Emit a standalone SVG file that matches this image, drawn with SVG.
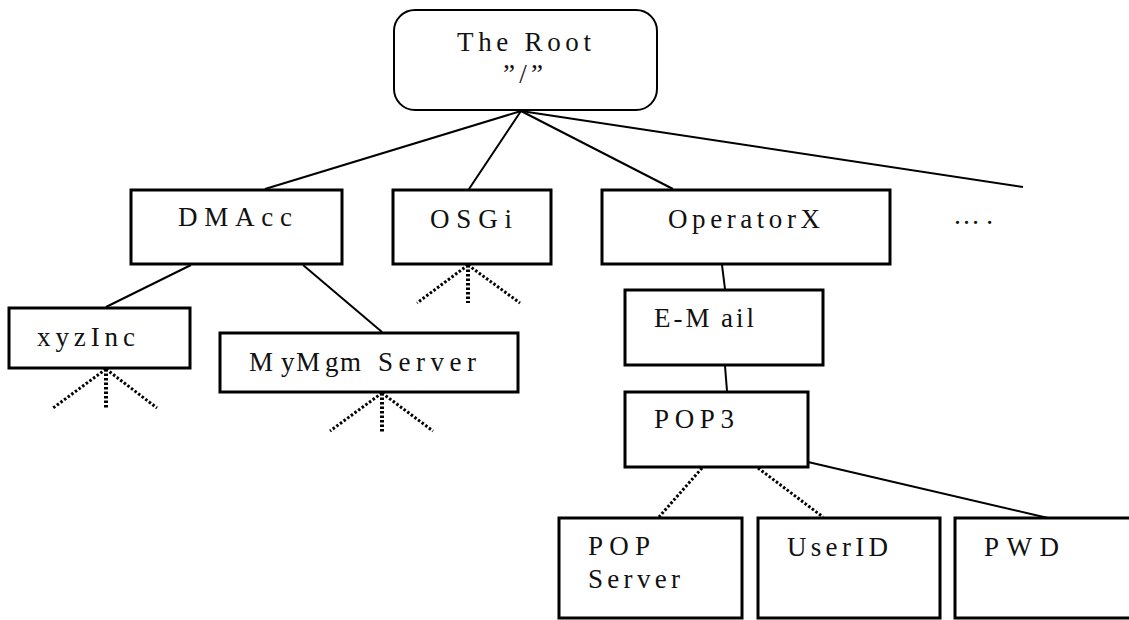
<svg xmlns="http://www.w3.org/2000/svg" width="1129" height="620" viewBox="0 0 1129 620">
<style>
.box{fill:#fff;stroke:#000;stroke-width:3}
.root{fill:#fff;stroke:#000;stroke-width:2}
.t{font-family:"Liberation Serif","Times New Roman",serif;font-size:27px;fill:#111}
.ln{stroke:#000;stroke-width:2;fill:none}
.dt{stroke:#000;stroke-width:3;stroke-dasharray:2.5 2;fill:none}
.dv{stroke:#000;stroke-width:4;stroke-dasharray:2.5 2;fill:none}
</style>
<rect width="1129" height="620" fill="#fff"/>
<g id="connectors">
<line class="ln" x1="521" y1="111" x2="265" y2="189"/>
<line class="ln" x1="521" y1="111" x2="469" y2="189"/>
<line class="ln" x1="521" y1="111" x2="673" y2="189"/>
<line class="ln" x1="521" y1="111" x2="1023" y2="187"/>
<line class="ln" x1="191" y1="265" x2="106" y2="307"/>
<line class="ln" x1="303" y1="265" x2="382" y2="332"/>
<line class="ln" x1="722" y1="265" x2="725" y2="289"/>
<line class="ln" x1="725" y1="366" x2="727" y2="391"/>
<line class="ln" x1="808" y1="462" x2="1048" y2="518"/>
<line class="dt" x1="702" y1="468" x2="659" y2="517"/>
<line class="dt" x1="758" y1="468" x2="823" y2="517"/>
<g id="fan-xyzInc">
<line class="dt" x1="106" y1="369" x2="53" y2="408"/>
<line class="dv" x1="106" y1="369" x2="106" y2="408"/>
<line class="dt" x1="106" y1="369" x2="157" y2="408"/>
</g>
<g id="fan-MyMgmServer">
<line class="dt" x1="382" y1="393" x2="330" y2="431"/>
<line class="dv" x1="382" y1="393" x2="382" y2="432"/>
<line class="dt" x1="382" y1="393" x2="433" y2="431"/>
</g>
<g id="fan-OSGi">
<line class="dt" x1="468" y1="265" x2="417" y2="303"/>
<line class="dv" x1="468" y1="265" x2="468" y2="303"/>
<line class="dt" x1="468" y1="265" x2="520" y2="303"/>
</g>
</g>
<g id="root">
<rect class="root" x="394" y="10" width="263" height="100" rx="21" ry="21"/>
<text class="t" x="457" y="51" font-size="28" textLength="134" lengthAdjust="spacing">The Root</text>
<text class="t" x="503" y="83" font-size="28" textLength="40" lengthAdjust="spacing">”/”</text>
</g>
<g id="dmacc">
<rect class="box" x="131" y="190" width="211" height="74"/>
<text class="t" x="178" y="226" font-size="28" textLength="114" lengthAdjust="spacing">DMAcc</text>
</g>
<g id="osgi">
<rect class="box" x="393" y="190" width="158" height="74"/>
<text class="t" x="430" y="228" font-size="28" textLength="82" lengthAdjust="spacing">OSGi</text>
</g>
<g id="operatorx">
<rect class="box" x="602" y="190" width="288" height="74"/>
<text class="t" x="668" y="228" font-size="28" textLength="152" lengthAdjust="spacing">OperatorX</text>
</g>
<g id="more">
<text class="t" x="953" y="224" textLength="40" lengthAdjust="spacing">….</text>
</g>
<g id="xyzinc">
<rect class="box" x="9" y="308" width="181" height="60"/>
<text class="t" x="37" y="346" font-size="25" textLength="98" lengthAdjust="spacing">xyzInc</text>
</g>
<g id="mymgmserver">
<rect class="box" x="220" y="333" width="298" height="59"/>
<text class="t" y="371" font-size="26" letter-spacing="1.5"><tspan x="249">M</tspan><tspan x="281">yM</tspan><tspan x="325">gm</tspan><tspan x="378" letter-spacing="5.5">Server</tspan></text>
</g>
<g id="email">
<rect class="box" x="625" y="290" width="198" height="75"/>
<text class="t" y="327" letter-spacing="3"><tspan x="654">E-M</tspan><tspan x="721">ail</tspan></text>
</g>
<g id="pop3">
<rect class="box" x="625" y="392" width="183" height="75"/>
<text class="t" x="654" y="428" textLength="80" lengthAdjust="spacing">POP3</text>
</g>
<g id="popserver">
<rect class="box" x="559" y="518" width="183" height="100"/>
<text class="t" x="588" y="555" textLength="62" lengthAdjust="spacing">POP</text>
<text class="t" x="588" y="588" textLength="92" lengthAdjust="spacing">Server</text>
</g>
<g id="userid">
<rect class="box" x="758" y="518" width="182" height="100"/>
<text class="t" x="787" y="556" textLength="101" lengthAdjust="spacing">UserID</text>
</g>
<g id="pwd">
<rect class="box" x="955" y="518" width="190" height="100"/>
<text class="t" x="984" y="556" textLength="75" lengthAdjust="spacing">PWD</text>
</g>
</svg>
